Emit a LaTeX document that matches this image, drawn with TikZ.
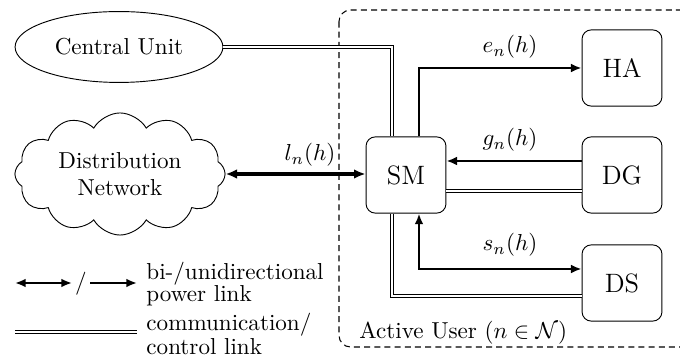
\documentclass[tikz,border=0pt]{standalone}
\usetikzlibrary{shapes.geometric,shapes.symbols,arrows.meta}
\begin{document}
\begin{tikzpicture}[x=0.433pt,y=-0.433pt,
  boxnode/.style={draw,rounded corners=4pt,minimum width=34.6pt,minimum height=33pt,inner sep=0pt,font=\fontsize{11.5}{13}\selectfont},
  pw/.style={line width=1pt},
  mytip/.tip={Latex[length=4.6pt,width=3.8pt]},
  bigtip/.tip={Latex[length=5pt,width=4.2pt]},
  comm/.style={double,double distance=0.8pt,line width=0.45pt},
  lbl/.style={inner sep=0pt}]
\useasboundingbox (0,0) rectangle (680,358);
\clip (0,0) rectangle (680,358);
% dashed user area
\draw[dashed,dash pattern=on 2.6pt off 1.8pt,line width=0.45pt,rounded corners=5pt] (339,10) rectangle (700,347);
% nodes
\node[draw,ellipse,minimum width=90pt,minimum height=30.7pt,inner sep=0pt] (CU) at (119,47) {Central Unit};
\node[draw,cloud,cloud puffs=12,cloud puff arc=120,aspect=1.75,minimum width=91pt,minimum height=52pt,inner sep=0pt,align=center] (DN) at (120,174) {Distribution\\Network};
\node[boxnode] (SM) at (406,175) {SM};
\node[boxnode] (HA) at (622,68) {HA};
\node[boxnode] (DG) at (622,175) {DG};
\node[boxnode] (DS) at (622,283) {DS};
% helper coordinates
\coordinate (c1) at (419,0);
\coordinate (c2) at (392,0);
\coordinate (gy) at (0,161);
\coordinate (cy) at (0,191);
\coordinate (sy) at (0,269);
\coordinate (dy) at (0,296);
% connectors
\draw[comm] (CU.east) -| (SM.north -| c2);
\draw[pw,-{mytip}] (SM.north -| c1) |- (HA.west);
\draw[pw,-{mytip}] (DG.west |- gy) -- (SM.east |- gy);
\draw[comm] (DG.west |- cy) -- (SM.east |- cy);
\draw[pw,{mytip}-{mytip}] (SM.south -| c1) |- (DS.west |- sy);
\draw[comm] (SM.south -| c2) |- (DS.west |- dy);
\draw[line width=1.4pt,{bigtip}-{bigtip}] (DN.east) -- (SM.west |- DN.east);
% labels
\node[lbl] (le) at (510,47) {$e_n(h)$};
\node[lbl] (lg) at (510,140) {$g_n(h)$};
\node[lbl] (ls) at (510,245) {$s_n(h)$};
\node[lbl] (ll) at (310,155) {$l_n(h)$};
\node[lbl,anchor=west] (au) at (359,333) {Active User $(n\in\mathcal{N})$};
% legend
\coordinate (L1a) at (15,283);
\coordinate (L1b) at (72,283);
\coordinate (L2a) at (90,283);
\coordinate (L2b) at (137,283);
\coordinate (L3a) at (15,332);
\coordinate (L3b) at (137,332);
\draw[pw,{mytip}-{mytip}] (L1a) -- (L1b);
\node[lbl] (sl) at (81,284) {/};
\draw[pw,-{mytip}] (L2a) -- (L2b);
\draw[comm] (L3a) -- (L3b);
\node[lbl,anchor=west,align=left] (t1) at (146,284) {bi-/unidirectional\\[-2.8pt]power link};
\node[lbl,anchor=west,align=left] (t2) at (146,334) {communication/\\[-2pt]control link};
\end{tikzpicture}
\end{document}
